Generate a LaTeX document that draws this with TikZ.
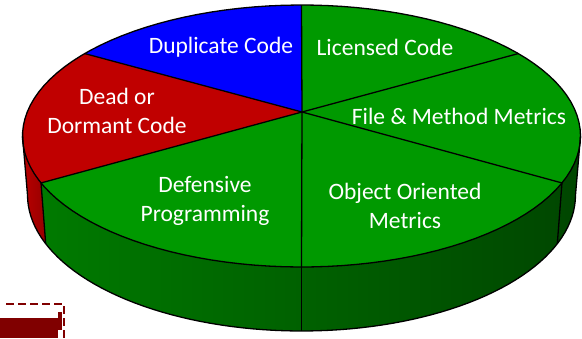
\documentclass[tikz,border=0pt]{standalone}
\usepackage{fontspec}
\setmainfont{Carlito}
\definecolor{topgreen}{RGB}{0,153,0}
\definecolor{topred}{RGB}{192,0,0}
\definecolor{topblue}{RGB}{0,0,255}
\definecolor{sidegreenA}{RGB}{0,122,0}
\definecolor{sidegreenB}{RGB}{0,70,0}
\definecolor{sideredA}{RGB}{185,0,0}
\definecolor{sideredB}{RGB}{150,0,0}
\definecolor{keyred}{RGB}{128,0,0}
\tikzset{every picture/.style={line join=round}}
\tikzset{rim/.style={draw=black, line width=1.3pt}}
\tikzset{pielabel/.style={text=white, align=center, inner sep=0pt,
  font=\fontsize{23.5}{29.5}\selectfont}}
\tikzset{declare function={tx(\t)=301.5+279*cos(\t); ty(\t)=136-131*sin(\t);
  bx(\t)=301.5+274*cos(\t); by(\t)=195-136*sin(\t);}}

\begin{document}
\begin{tikzpicture}[x=1pt,y=-1pt]
\useasboundingbox (0,0) rectangle (582,338);
\coordinate (apex) at (302,112);
\foreach \t in {39,90,141,180,201,270,339,360} {
\coordinate (top\t) at ({tx(\t)},{ty(\t)});
\coordinate (bot\t) at ({bx(\t)},{by(\t)});
}
% side of the pie
\shade[left color=sideredA, right color=sideredB]
  plot[domain=180:201,samples=20] ({tx(\x)},{ty(\x)})
  -- plot[domain=201:180,samples=20] ({bx(\x)},{by(\x)}) -- cycle;
\shade[left color=sidegreenA, right color=sidegreenB]
  plot[domain=201:360,samples=80] ({tx(\x)},{ty(\x)})
  -- plot[domain=360:201,samples=80] ({bx(\x)},{by(\x)}) -- cycle;
% top slices
\foreach \a/\b/\c in {39/90/topgreen, 90/141/topblue, 141/201/topred,
  201/270/topgreen, 270/339/topgreen, 339/399/topgreen} {
\fill[\c] (apex) -- plot[domain=\a:\b,samples=40] ({tx(\x)},{ty(\x)}) -- cycle;
}
\foreach \t in {39,90,141,201,270,339} {
\draw[rim] (apex) -- (top\t);
}
\foreach \t in {201,270,339} {
\draw[rim] (top\t) -- (bot\t);
}
\draw[rim] plot[domain=0:360,samples=120] ({tx(\x)},{ty(\x)}) -- cycle;
\draw[rim] (top180) -- plot[domain=180:360,samples=80] ({bx(\x)},{by(\x)}) -- (top360);
% labels
\node[pielabel] (dup) at (221,47) {Duplicate Code};
\node[pielabel] (lic) at (385,47) {Licensed Code};
\node[pielabel] (dead) at (117,111) {Dead or\\Dormant Code};
\node[pielabel] (file) at (459,116) {File \& Method Metrics};
\node[pielabel] (def) at (205,201) {Defensive\\Programming};
\node[pielabel] (oo) at (405,206) {Object Oriented\\Metrics};
% cut-off legend key
\fill[keyred] (0,318) rectangle (58,338);
\fill[keyred] (58,312) rectangle (62,330);
\draw[keyred, line width=1.5pt, dash pattern=on 8pt off 4pt] (6,304) -- (64,304) -- (64,338);
\end{tikzpicture}
\end{document}
